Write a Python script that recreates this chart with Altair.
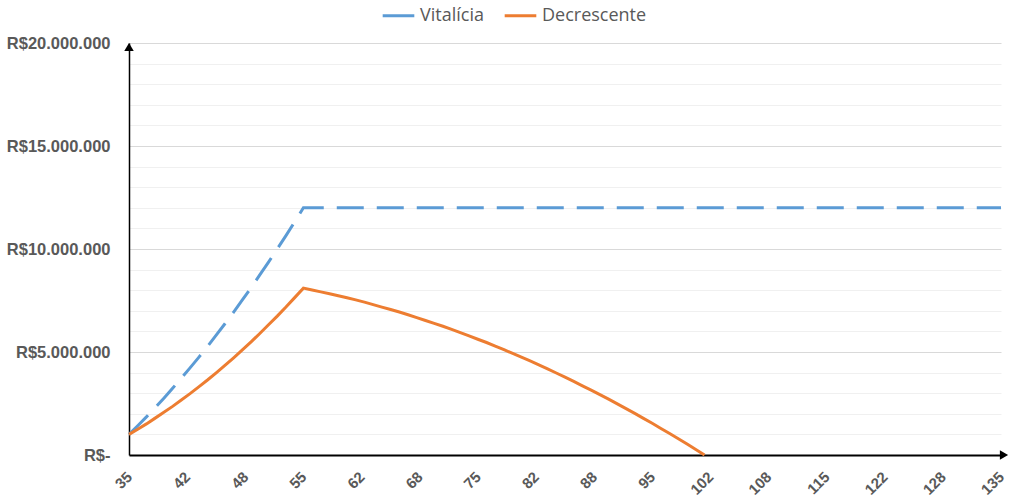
import altair as alt
import pandas as pd

# ---- data (values in millions of R$) ----
idades = list(range(35, 136))

vitalicia_subida = [1.00, 1.42, 1.85, 2.30, 2.76, 3.24, 3.73, 4.23, 4.74, 5.27,
                    5.82, 6.37, 6.94, 7.53, 8.12, 8.74, 9.36, 10.00, 10.65, 11.32, 12.00]
vitalicia_plato = [12.00] * 80
vitalicia = vitalicia_subida + vitalicia_plato

decrescente = [1.00, 1.25, 1.51, 1.79, 2.07, 2.36, 2.67, 2.98, 3.31, 3.64,
               3.99, 4.35, 4.72, 5.10, 5.49, 5.90, 6.32, 6.74, 7.18, 7.64,
               8.10, 8.01, 7.92, 7.83, 7.73, 7.63, 7.53, 7.42, 7.30, 7.18,
               7.06, 6.94, 6.81, 6.67, 6.53, 6.39, 6.25, 6.10, 5.94, 5.78,
               5.62, 5.46, 5.29, 5.11, 4.93, 4.75, 4.57, 4.38, 4.18, 3.98,
               3.78, 3.57, 3.36, 3.15, 2.93, 2.71, 2.48, 2.25, 2.02, 1.78,
               1.54, 1.29, 1.04, 0.79, 0.53, 0.27, 0.00]

series_names = ["Vitalícia", "Decrescente"]
series_colors = ["#5B9BD5", "#ED7D31"]

x_ticks = [35, 41.667, 48.333, 55, 61.667, 68.333, 75, 81.667, 88.333, 95,
           101.667, 108.333, 115, 121.667, 128.333, 135]
y_ticks = [v * 1_000_000 for v in range(0, 21)]

rows = []
for a, v in zip(idades, vitalicia):
    rows.append({"idade": a, "valor": v * 1_000_000, "serie": "Vitalícia"})
for a, v in zip(idades, decrescente):
    rows.append({"idade": a, "valor": v * 1_000_000, "serie": "Decrescente"})
df = pd.DataFrame(rows)

label_color = "#595959"

x_enc = alt.X(
    "idade:Q",
    scale=alt.Scale(domain=[35, 135], nice=False, zero=False),
    axis=alt.Axis(
        values=x_ticks,
        labelExpr="format(datum.value, '.0f')",
        labelAngle=-45,
        labelAlign="right",
        labelBaseline="middle",
        labelPadding=19,
        labelFont="Liberation Sans",
        labelFontSize=15,
        labelFontWeight="bold",
        labelColor=label_color,
        ticks=False,
        grid=False,
        domainColor="black",
        domainWidth=2,
        title=None,
        labelOverlap=False,
    ),
)

y_enc = alt.Y(
    "valor:Q",
    scale=alt.Scale(domain=[0, 20_000_000], nice=False),
    axis=alt.Axis(
        values=y_ticks,
        labelExpr="datum.value == 0 ? 'R$-' : (datum.value % 5000000 == 0 ? 'R$' + replace(format(datum.value, ',.0f'), regexp(',', 'g'), '.') : '')",
        labelFont="Liberation Sans",
        labelFontSize=16.5,
        labelFontWeight="bold",
        labelColor=label_color,
        labelPadding=19,
        ticks=False,
        grid=True,
        gridColor={"condition": {"test": "datum.value % 5000000 === 0", "value": "#d9d9d9"}, "value": "#f0f0f0"},
        gridWidth=1,
        domainColor="black",
        domainWidth=1.5,
        title=None,
        labelOverlap=False,
    ),
)

color_enc = alt.Color(
    "serie:N",
    scale=alt.Scale(domain=series_names, range=series_colors),
    legend=alt.Legend(
        title=None,
        orient="none",
        direction="horizontal",
        legendX=252,
        legendY=-45,
        symbolType="stroke",
        symbolSize=1000,
        symbolStrokeWidth=3,
        labelFont="Open Sans",
        labelFontSize=18,
        labelColor=label_color,
        columnPadding=14,
        labelOffset=4,
    ),
)

base = alt.Chart(df)

vit_line = base.transform_filter(alt.datum.serie == "Vitalícia").mark_line(
    strokeWidth=3, strokeDash=[27, 13]
).encode(x=x_enc, y=y_enc, color=color_enc)

dec_line = base.transform_filter(alt.datum.serie == "Decrescente").mark_line(
    strokeWidth=3
).encode(x=x_enc, y=y_enc, color=color_enc)

arrow_df = pd.DataFrame({"k": [0]})
arrow_up = alt.Chart(arrow_df).mark_point(
    shape="triangle-up", filled=True, color="black", opacity=1, size=90
).encode(x=alt.value(0), y=alt.value(4))
arrow_right = alt.Chart(arrow_df).mark_point(
    shape="triangle-right", filled=True, color="black", opacity=1, size=90
).encode(x=alt.value(875), y=alt.value(412))

axis_ext = alt.Chart(arrow_df).mark_rule(color="black", strokeWidth=2).encode(
    x=alt.value(872), x2=alt.value(876), y=alt.value(412)
)

chart = alt.layer(vit_line, dec_line, axis_ext, arrow_up, arrow_right).properties(
    width=872,
    height=412,
    padding={"left": 129, "top": 43, "right": 23, "bottom": 42},
    autosize=alt.AutoSizeParams(type="none"),
    background="white",
).configure_view(stroke=None)

chart.save("out.html", embed_options={"renderer": "svg", "actions": False})
